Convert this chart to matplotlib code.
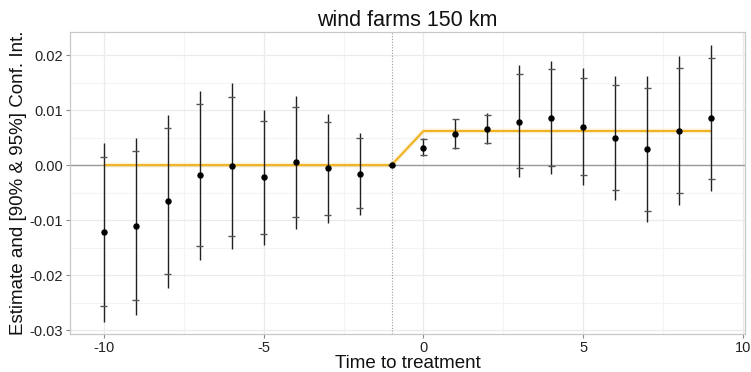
import matplotlib
matplotlib.use("Agg")
import matplotlib.pyplot as plt
import numpy as np

plt.rcParams['font.family'] = ['Liberation Sans', 'DejaVu Sans']

# Data
periods = [-10, -9, -8, -7, -6, -5, -4, -3, -2, -1, 0, 1, 2, 3, 4, 5, 6, 7, 8, 9]
estimate = [-0.0121, -0.0111, -0.0066, -0.0018, -0.0002, -0.0022, 0.0005, -0.0006, -0.0016, 0.0,
            0.0031, 0.0056, 0.0066, 0.0079, 0.0086, 0.0070, 0.0050, 0.0029, 0.0062, 0.0086]
ci95_low = [-0.0285, -0.0273, -0.0224, -0.0172, -0.0152, -0.0146, -0.0116, -0.0106, -0.0091, 0.0,
            0.0016, 0.0030, 0.0038, -0.0021, -0.0017, -0.0036, -0.0064, -0.0104, -0.0073, -0.0047]
ci95_high = [0.0041, 0.0050, 0.0092, 0.0135, 0.0149, 0.0100, 0.0126, 0.0093, 0.0059, 0.0,
             0.0049, 0.0084, 0.0095, 0.0182, 0.0190, 0.0176, 0.0162, 0.0162, 0.0199, 0.0218]
ci90_low = [-0.0256, -0.0246, -0.0198, -0.0147, -0.0128, -0.0126, -0.0095, -0.0090, -0.0078, 0.0,
            0.0018, 0.0031, 0.0040, -0.0006, -0.0001, -0.0018, -0.0046, -0.0084, -0.0051, -0.0025]
ci90_high = [0.0015, 0.0026, 0.0067, 0.0111, 0.0124, 0.0081, 0.0106, 0.0078, 0.0049, 0.0,
             0.0047, 0.0083, 0.0092, 0.0166, 0.0174, 0.0158, 0.0146, 0.0141, 0.0177, 0.0195]
effect_x = [-10, -1, 0, 9]
effect_y = [0.0, 0.0, 0.0062, 0.0062]

xticks = [-10, -5, 0, 5, 10]
yticks = [-0.03, -0.02, -0.01, 0.00, 0.01, 0.02]

fig = plt.figure(figsize=(7.51, 3.72), dpi=100)
ax = fig.add_axes([70/751, 38/372, 675/751, 302/372])

ax.set_xlim(-11.05, 10.05)
ax.set_ylim(-0.0307, 0.0242)

# grid
for v in [-7.5, -2.5, 2.5, 7.5]:
    ax.axvline(v, color='#f4f4f4', lw=0.8, zorder=0)
for v in [-0.025, -0.015, -0.005, 0.005, 0.015]:
    ax.axhline(v, color='#f4f4f4', lw=0.8, zorder=0)
for v in xticks:
    ax.axvline(v, color='#ebebeb', lw=0.9, zorder=0)
for v in yticks:
    ax.axhline(v, color='#ebebeb', lw=0.9, zorder=0)

ax.axhline(0, color='#9a9a9a', lw=1.0, zorder=1)
ax.axvline(-1, color='#9a9a9a', lw=0.8, ls=(0, (1, 1.5)), zorder=1)

# effect line with halo
ax.plot(effect_x, effect_y, color='#f7dc96', lw=3.5, alpha=0.35, zorder=2, solid_capstyle='butt')
ax.plot(effect_x, effect_y, color='#f0b323', lw=1.5, zorder=3, solid_capstyle='butt')

x = np.array(periods, dtype=float)
ax.vlines(x, ci95_low, ci95_high, color='#222222', lw=1.0, zorder=4)
cap = 0.12
ax.hlines(ci90_low, x - cap, x + cap, color='#555555', lw=1.0, zorder=4)
ax.hlines(ci90_high, x - cap, x + cap, color='#555555', lw=1.0, zorder=4)
ax.scatter(x, estimate, s=13, color='black', zorder=5)

ax.set_xticks(xticks)
ax.set_xticklabels([str(t) for t in xticks])
ax.set_yticks(yticks)
ax.set_yticklabels([f"{t:.2f}" for t in yticks])
ax.tick_params(axis='both', labelsize=10.5, colors='#333333', length=3, width=0.8,
               color='#888888', pad=2)
ax.tick_params(axis='both', labelcolor='#222222')

for s in ax.spines.values():
    s.set_color('#c8c8c8')
    s.set_linewidth(0.9)

ax.set_title('wind farms 150 km', fontsize=15.5, pad=4, color='#111111')
ax.set_xlabel('Time to treatment', fontsize=13.5, labelpad=0, color='#111111')
ax.set_ylabel('Estimate and [90% & 95%] Conf. Int.', fontsize=13.5, labelpad=2, color='#111111')

fig.savefig('out.png', dpi=100, facecolor='white')
